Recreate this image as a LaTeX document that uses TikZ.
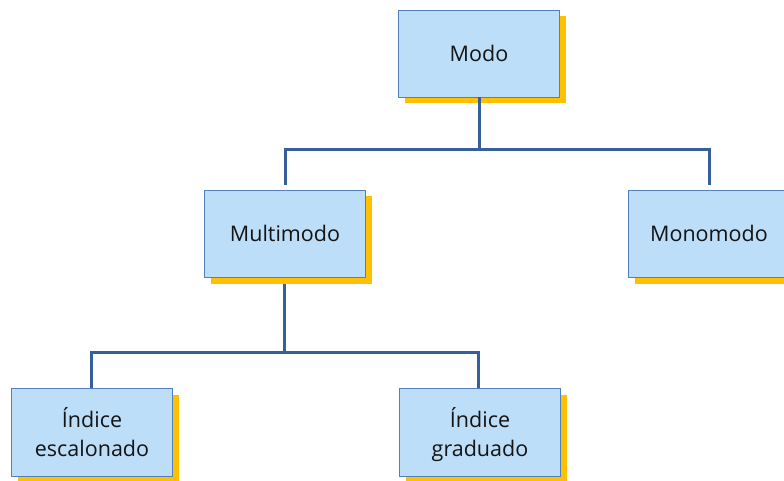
\documentclass[tikz,border=0pt]{standalone}
\usepackage{fontspec}
\setmainfont{Open Sans}
\usetikzlibrary{shadows}
\definecolor{boxfill}{RGB}{189,222,248}
\definecolor{boxline}{RGB}{84,128,186}
\definecolor{linkblue}{RGB}{54,96,156}
\definecolor{gold}{RGB}{255,192,0}
\tikzset{
  x=1pt, y=-1pt,
  modebox/.style={draw=boxline, line width=0.9pt, fill=boxfill,
    minimum width=161pt, minimum height=87pt, inner sep=0pt,
    align=center, text=black!92,
    font=\fontsize{21.5}{29}\selectfont,
    drop shadow={shadow xshift=6.5pt, shadow yshift=-6.5pt, fill=gold, opacity=1}},
  twoline/.style={minimum height=88pt, text depth=0pt},
  link/.style={draw=linkblue, line width=3pt}
}
\begin{document}
\begin{tikzpicture}
\useasboundingbox (0,0) rectangle (784,481);
\clip (0,0) rectangle (784,481);
% boxes
\node[modebox] (modo)  at (479,53.5) {Modo};
\node[modebox] (multi) at (285,233.5) {Multimodo};
\node[modebox] (mono)  at (709,233.5) {Monomodo};
\node[modebox, twoline] (esc) at (92,432) {Índice\\escalonado};
\node[modebox, twoline] (grad) at (480,432) {Índice\\graduado};
% junction points of the two branchings
\coordinate (j1) at (479,149.5);
\coordinate (j2) at (284.5,352);
% first level
\draw[link] (modo.south) -- (j1);
\draw[link] ([yshift=4.5pt]multi.north) |- (j1) -| ([yshift=4.5pt]mono.north);
% second level
\draw[link] ([yshift=-7pt]multi.south -| j2) -- (j2);
\draw[link] ([xshift=-1pt]esc.north) |- (j2) -| ([xshift=-2pt]grad.north);
\end{tikzpicture}
\end{document}
